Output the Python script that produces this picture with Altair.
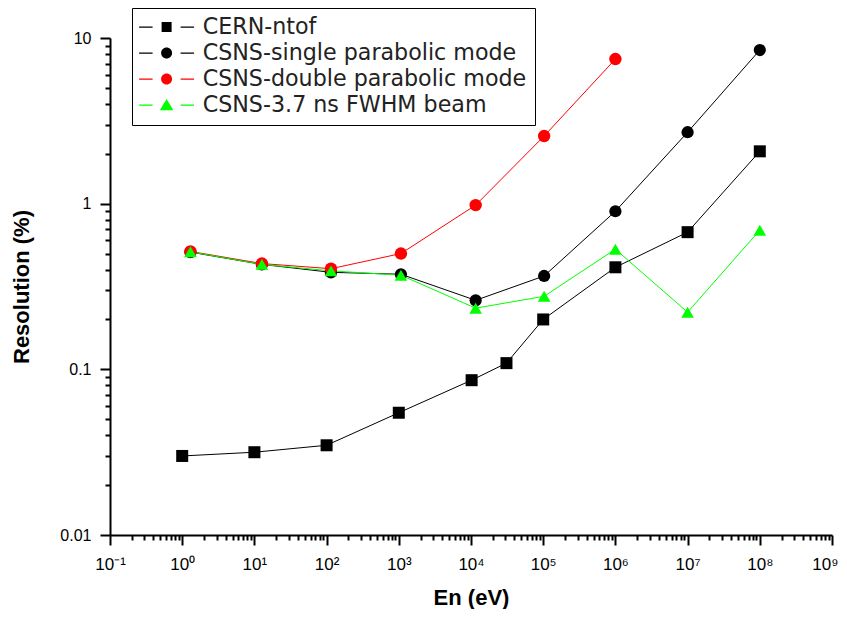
import altair as alt
import pandas as pd

# ---- data ----
series_names = ["CERN-ntof", "CSNS-single parabolic mode",
                "CSNS-double parabolic mode", "CSNS-3.7 ns FWHM beam"]

cern_x = [1, 10, 100, 1000, 1.02e4, 3.1e4, 1e5, 1e6, 1e7, 1e8]
cern_y = [0.030, 0.0316, 0.0348, 0.0547, 0.086, 0.109, 0.200, 0.413, 0.673, 2.07]

csns_x = [1.3, 12.7, 115, 1070, 1.16e4, 1.03e5, 1e6, 1e7, 1e8]
single_y = [0.51, 0.43, 0.385, 0.375, 0.261, 0.366, 0.90, 2.70, 8.46]

double_x = [1.3, 12.7, 115, 1070, 1.16e4, 1.03e5, 1e6]
double_y = [0.515, 0.435, 0.405, 0.50, 0.98, 2.56, 7.46]

beam_y = [0.512, 0.430, 0.393, 0.370, 0.234, 0.276, 0.531, 0.221, 0.692]

series_colors = ["#000000", "#000000", "#ff0000", "#00ff00"]
point_shapes = ["square", "circle", "circle", "triangle-up"]
point_sizes = [144, 160, 160, 200]

x_ticks = [round(k * 10.0 ** e, 12) for e in range(-1, 9) for k in range(1, 10)] + [1e9]
y_ticks = [round(k * 10.0 ** e, 12) for e in range(-2, 1) for k in range(1, 10)] + [10]

rows = []
for name, xs, ys in [(series_names[0], cern_x, cern_y),
                     (series_names[1], csns_x, single_y),
                     (series_names[2], double_x, double_y),
                     (series_names[3], csns_x, beam_y)]:
    for i, (a, b) in enumerate(zip(xs, ys)):
        rows.append({"series": name, "x": a, "y": b, "idx": i})
df = pd.DataFrame(rows)

# legend symbols: line - marker - line
legend_paths = [
    "M-2.75,-0.06H-1.4V0.06H-2.75Z M-0.5,-0.5H0.5V0.5H-0.5Z M1.4,-0.06H2.75V0.06H1.4Z",
    "M-2.75,-0.06H-1.4V0.06H-2.75Z M0.55,0A0.55,0.55 0 1,1 -0.55,0A0.55,0.55 0 1,1 0.55,0Z M1.4,-0.06H2.75V0.06H1.4Z",
    "M-2.75,-0.06H-1.4V0.06H-2.75Z M0.55,0A0.55,0.55 0 1,1 -0.55,0A0.55,0.55 0 1,1 0.55,0Z M1.4,-0.06H2.75V0.06H1.4Z",
    "M-2.75,-0.06H-1.4V0.06H-2.75Z M0,-0.62L0.68,0.52H-0.68Z M1.4,-0.06H2.75V0.06H1.4Z",
]

isdec = "abs(log(datum.value)/LN10 - round(log(datum.value)/LN10)) < 1e-6"
ex = "round(log(datum.value)/LN10)"
x_label_expr = (f"{isdec} ? '10' + ({ex} < 0 ? '\u207b' : '') + "
                f"substring('\u2070\u00b9\u00b2\u00b3\u2074\u2075\u2076\u2077\u2078\u2079', abs({ex}), abs({ex}) + 1) : ''")
y_label_expr = f"{isdec} ? datum.label : ''"
tick_size = {"condition": {"test": isdec, "value": 10}, "value": 5}
last_test = "datum.value > 5e8"

x_scale = alt.Scale(type="log", domain=[0.1, 1e9], nice=False)
y_scale = alt.Scale(type="log", domain=[0.01, 10], nice=False)

x_axis = alt.Axis(values=x_ticks, labelExpr=x_label_expr, tickSize=tick_size,
                  labelOverlap=False, labelFlush=False, grid=False,
                  labelAlign={"condition": {"test": last_test, "value": "right"}, "value": "center"},
                  labelOffset={"condition": {"test": last_test, "value": 6}, "value": 0},
                  title="En (eV)", labelFontSize=17, labelPadding=11,
                  titlePadding=15)
y_axis = alt.Axis(values=y_ticks, labelExpr=y_label_expr, format="~g",
                  tickSize=tick_size, labelOverlap=False, labelFlush=False,
                  grid=False, title="Resolution (%)", labelFontSize=16,
                  labelPadding=9, titlePadding=26)

X = alt.X("x:Q", scale=x_scale, axis=x_axis)
Y = alt.Y("y:Q", scale=y_scale, axis=y_axis)

color_scale = alt.Scale(domain=series_names, range=series_colors)

lines = alt.Chart(df).mark_line(strokeWidth=1).encode(
    x=X, y=Y,
    color=alt.Color("series:N", scale=color_scale, legend=None),
    order=alt.Order("idx:Q"),
)

points = alt.Chart(df).mark_point(filled=True, opacity=1).encode(
    x=X, y=Y,
    color=alt.Color("series:N", scale=color_scale, legend=None),
    shape=alt.Shape("series:N", scale=alt.Scale(domain=series_names, range=point_shapes), legend=None),
    size=alt.Size("series:N", scale=alt.Scale(domain=series_names, range=point_sizes), legend=None),
)

leg = alt.Legend(orient="none", legendX=22, legendY=-30, title=None,
                 labelFont="DejaVu Sans", labelFontSize=22.2, labelColor="#222222",
                 symbolSize=400, symbolStrokeWidth=0, symbolOffset=15.5,
                 labelOffset=25, rowPadding=3, padding=8,
                 strokeColor="#000000", fillColor="#ffffff",
                 labelLimit=500)

legend_layer = alt.Chart(df).transform_filter("false").mark_point(filled=True, opacity=1).encode(
    x=X, y=Y,
    color=alt.Color("series:N", scale=color_scale, legend=leg),
    shape=alt.Shape("series:N", scale=alt.Scale(domain=series_names, range=legend_paths), legend=leg),
)

chart = alt.layer(lines, points, legend_layer).resolve_scale(
    color="independent", shape="independent"
).properties(
    width=722, height=497,
    autosize=alt.AutoSizeParams(type="none"),
    padding={"left": 102, "top": 30, "right": 7, "bottom": 74},
).configure_view(stroke=None).configure_axis(
    labelFont="Liberation Sans", titleFont="Liberation Sans",
    labelColor="#000000", titleColor="#000000",
    domainColor="#000000", tickColor="#000000",
    domainWidth=2, tickWidth=2, titleFontSize=22, titleFontWeight="bold",
)

chart.save("out.html", embed_options={"renderer": "svg", "actions": False})
